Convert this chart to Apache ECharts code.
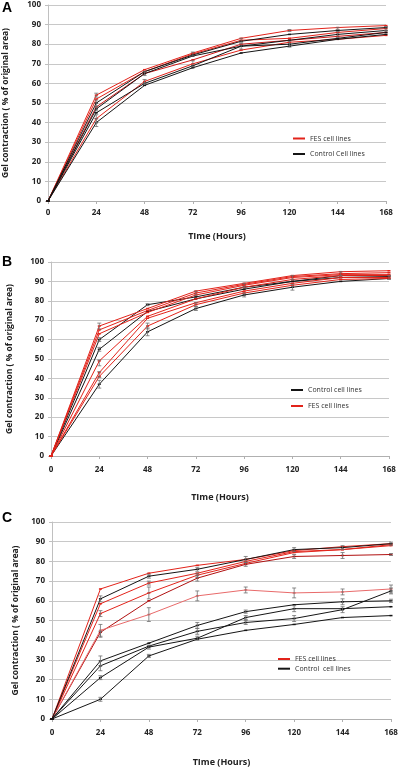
<!DOCTYPE html>
<html>
<head>
<meta charset="utf-8">
<script src="https://cdn.jsdelivr.net/npm/echarts@6/dist/echarts.min.js"></script>
<style>
html,body{margin:0;padding:0;background:#fff;}
#chart{width:400px;height:769px;}
</style>
</head>
<body>
<div id="chart"></div>
<script>
// Time points (hours)
const hours = [0, 24, 48, 72, 96, 120, 144, 168];
const xTicks = [0, 24, 48, 72, 96, 120, 144, 168];

// Panel A
const aFES = [
  [0, 54, 67, 75.5, 83, 87, 88.5, 89.5],
  [0, 52, 66, 75, 82, 83, 86, 88],
  [0, 48, 65, 72, 80, 82, 84, 86],
  [0, 42, 61, 70, 77, 81, 82.5, 84.5]
];
const aControl = [
  [0, 50, 66, 74.5, 81.5, 85, 87, 88.5],
  [0, 47, 65, 74, 79, 82, 85, 87],
  [0, 45, 60, 69, 79, 80, 83, 86],
  [0, 40, 59, 68, 75.5, 79, 82.5, 85]
];
const aErr = [[24,42,2],[24,40,2],[24,47,1],[24,54,1],[24,50,1.5],[48,65,1],[48,61,1],[72,75,1],[72,70,1.5],[96,79,1.5],[96,82,1],[120,80,1.5],[120,87,0.5],[144,85,1.5],[144,88,0.5],[168,88,1]];

// Panel B
const bFES = [
  [0, 67, 76, 85, 89, 93, 95, 95.5],
  [0, 65, 75, 84, 88.5, 92.5, 94, 94.5],
  [0, 63, 74, 83, 88, 92, 93.5, 93.5],
  [0, 49, 72, 81, 87, 91, 93, 93],
  [0, 43, 71, 79, 85, 89, 92, 92],
  [0, 41, 67, 78, 84, 88, 91, 91.5]
];
const bControl = [
  [0, 60, 78, 82, 87, 90, 93, 93],
  [0, 55, 74.5, 81, 86, 90, 92, 92.5],
  [0, 37, 64, 76, 83, 87, 90, 91.5]
];
const bErr = [[24,67,1.5],[24,60,1],[24,55,1],[24,48,1.5],[24,42,1.5],[24,37,2],[48,78,0.5],[48,67,1.5],[48,64,2],[72,84,1],[72,78,1],[72,76,1],[96,88,1],[96,83,1],[120,92,1],[120,87,1.5],[144,94,1],[168,92,1]];

// Panel C
const cFES = [
  [0, 66, 74, 78, 81, 85.5, 87.5, 89],
  [0, 58.5, 69, 74, 80, 85, 86, 88.5],
  [0, 53.5, 64, 73, 79, 84.5, 86, 88],
  [0, 44, 60, 71.5, 78.5, 82.5, 83, 83.5],
  [0, 45, 53, 62.5, 65.5, 64, 64.5, 66]
];
const cControl = [
  [0, 61, 72.5, 76, 81, 86, 87, 89],
  [0, 29.5, 38.5, 47.5, 54.5, 58, 59.5, 60],
  [0, 27, 37, 44.5, 49, 51, 55.5, 65],
  [0, 21, 36.5, 41, 51.5, 56, 56, 57],
  [0, 10, 32, 40.5, 45, 48, 51.5, 52.5]
];
const cErr = [[24,61,1.5],[24,53.5,1.5],[24,45,3],[24,43,1.5],[24,29.5,2.5],[24,27,2.5],[24,21,1],[24,10,1],[48,72.5,1],[48,69,1],[48,64,3],[48,53,3.5],[48,36.5,1],[48,32,0.8],[72,76,1],[72,73,1],[72,71.5,1.5],[72,62.5,2.5],[72,47.5,1.5],[72,44.5,1.5],[72,41,1],[96,81,1.5],[96,78.5,1],[96,65.5,1.5],[96,54.5,0.8],[96,51.5,1],[96,49,1],[120,86,1],[120,82.5,1],[120,64,2.5],[120,56,1.5],[120,51,1.5],[144,87,1],[144,83,1.5],[144,64.5,1.5],[144,59.5,1.5],[144,55.5,1.5],[168,89,0.8],[168,83.5,0.5],[168,66,2],[168,65,1.5],[168,60,0.8]];

const yTitle = 'Gel contraction ( % of original area)';
const xTitle = 'TIme (Hours)';

const RED = '#e2231a';
const DARKRED = '#b01010';
const LIGHTRED = '#e86a6a';
const BLACK = '#151515';

const grids = [
  {left: 48, right: 14, top: 5, height: 196, outerBoundsMode: 'none', containLabel: false},
  {left: 51, right: 11, top: 262, height: 194, outerBoundsMode: 'none', containLabel: false},
  {left: 52, right: 9, top: 522, height: 197, outerBoundsMode: 'none', containLabel: false}
];
const yGaps = [38, 37, 32];
const xGaps = [31, 37, 39];
const labelMarginsX = [8, 10, 10];

function mkX(i){
  return {
    type: 'value', gridIndex: i, min: 0, max: 168, interval: 24,
    name: xTitle, nameLocation: 'middle', nameGap: xGaps[i],
    nameTextStyle: {fontFamily: 'Open Sans', fontWeight: 'bold', fontSize: 9, color: '#222'},
    axisLine: {show: true, lineStyle: {color: '#b0b0b0', width: 1}},
    axisTick: {show: true, length: 3, inside: false, lineStyle: {color: '#b0b0b0'}},
    axisLabel: {fontFamily: 'Open Sans', fontWeight: 'bold', fontSize: 8, color: '#222', margin: labelMarginsX[i]},
    splitLine: {show: false}
  };
}
function mkY(i){
  return {
    type: 'value', gridIndex: i, min: 0, max: 100, interval: 10,
    name: yTitle, nameLocation: 'middle', nameGap: yGaps[i], nameRotate: 90,
    nameTextStyle: {fontFamily: 'Open Sans', fontWeight: 'bold', fontSize: 8.5, color: '#222'},
    axisLine: {show: true, lineStyle: {color: '#c0c0c0', width: 1}},
    axisTick: {show: true, length: 3, lineStyle: {color: '#c0c0c0'}},
    axisLabel: {fontFamily: 'Open Sans', fontWeight: 'bold', fontSize: 8, color: '#222', margin: 7},
    splitLine: {show: true, lineStyle: {color: '#c8c8c8', width: 1}}
  };
}

const series = [];
function addLines(arr, name, colors, gi, widths){
  arr.forEach((vals, k) => {
    series.push({
      type: 'line', name: name, xAxisIndex: gi, yAxisIndex: gi,
      data: hours.map((h, j) => [h, vals[j]]),
      showSymbol: true, symbol: 'rect', symbolSize: [3, 1.5],
      lineStyle: {color: colors[k % colors.length], width: widths ? widths[k] : 1},
      itemStyle: {color: colors[k % colors.length]},
      animation: false, z: 3
    });
  });
}
function addErr(arr, gi){
  series.push({
    type: 'custom', xAxisIndex: gi, yAxisIndex: gi, animation: false, z: 4,
    silent: true,
    data: arr,
    renderItem: function(params, api){
      const x = api.value(0), v = api.value(1), e = api.value(2);
      const p1 = api.coord([x, v - e]);
      const p2 = api.coord([x, v + e]);
      const w = 2;
      const st = {stroke: '#707070', lineWidth: 0.8};
      return {type: 'group', children: [
        {type: 'line', shape: {x1: p1[0], y1: p1[1], x2: p2[0], y2: p2[1]}, style: st},
        {type: 'line', shape: {x1: p1[0]-w, y1: p1[1], x2: p1[0]+w, y2: p1[1]}, style: st},
        {type: 'line', shape: {x1: p2[0]-w, y1: p2[1], x2: p2[0]+w, y2: p2[1]}, style: st}
      ]};
    }
  });
}

// Panel A
addLines(aFES, 'FES cell lines', [RED, RED, '#d01818', RED], 0);
addLines(aControl, 'Control Cell lines', [BLACK], 0);
addErr(aErr, 0);
// Panel B
addLines(bControl, 'Control cell lines', [BLACK], 1);
addLines(bFES, 'FES cell lines', [RED], 1);
addErr(bErr, 1);
// Panel C
addLines(cFES, 'FES cell lines', [RED, RED, RED, DARKRED, LIGHTRED], 2);
addLines(cControl, 'Control  cell lines', [BLACK], 2);
addErr(cErr, 2);

const legendText = {fontFamily: 'Open Sans', fontSize: 7, color: '#333'};
function mkLegend(data, left, top, gap){
  return {
    data: data, orient: 'vertical', left: left, top: top, itemGap: gap,
    itemWidth: 12, itemHeight: 2, icon: 'rect', textStyle: legendText,
    padding: 0, selectedMode: false
  };
}

const option = {
  backgroundColor: '#fff',
  animation: false,
  grid: grids,
  xAxis: [mkX(0), mkX(1), mkX(2)],
  yAxis: [mkY(0), mkY(1), mkY(2)],
  legend: [
    mkLegend(['FES cell lines', 'Control Cell lines'], 293, 135, 8.5),
    mkLegend(['Control cell lines', 'FES cell lines'], 291, 386.5, 9),
    mkLegend(['FES cell lines', 'Control  cell lines'], 278, 655.5, 2.7)
  ],
  title: [
    {text: 'A', left: 2, top: 1, padding: 0, textStyle: {fontFamily: 'Liberation Sans', fontWeight: 'bold', fontSize: 14, color: '#000'}},
    {text: 'B', left: 2, top: 255, padding: 0, textStyle: {fontFamily: 'Liberation Sans', fontWeight: 'bold', fontSize: 14, color: '#000'}},
    {text: 'C', left: 2, top: 511, padding: 0, textStyle: {fontFamily: 'Liberation Sans', fontWeight: 'bold', fontSize: 14, color: '#000'}}
  ],
  series: series
};

const chart = echarts.init(document.getElementById('chart'), null, {renderer: 'canvas'});
chart.setOption(option);
</script>
</body>
</html>
